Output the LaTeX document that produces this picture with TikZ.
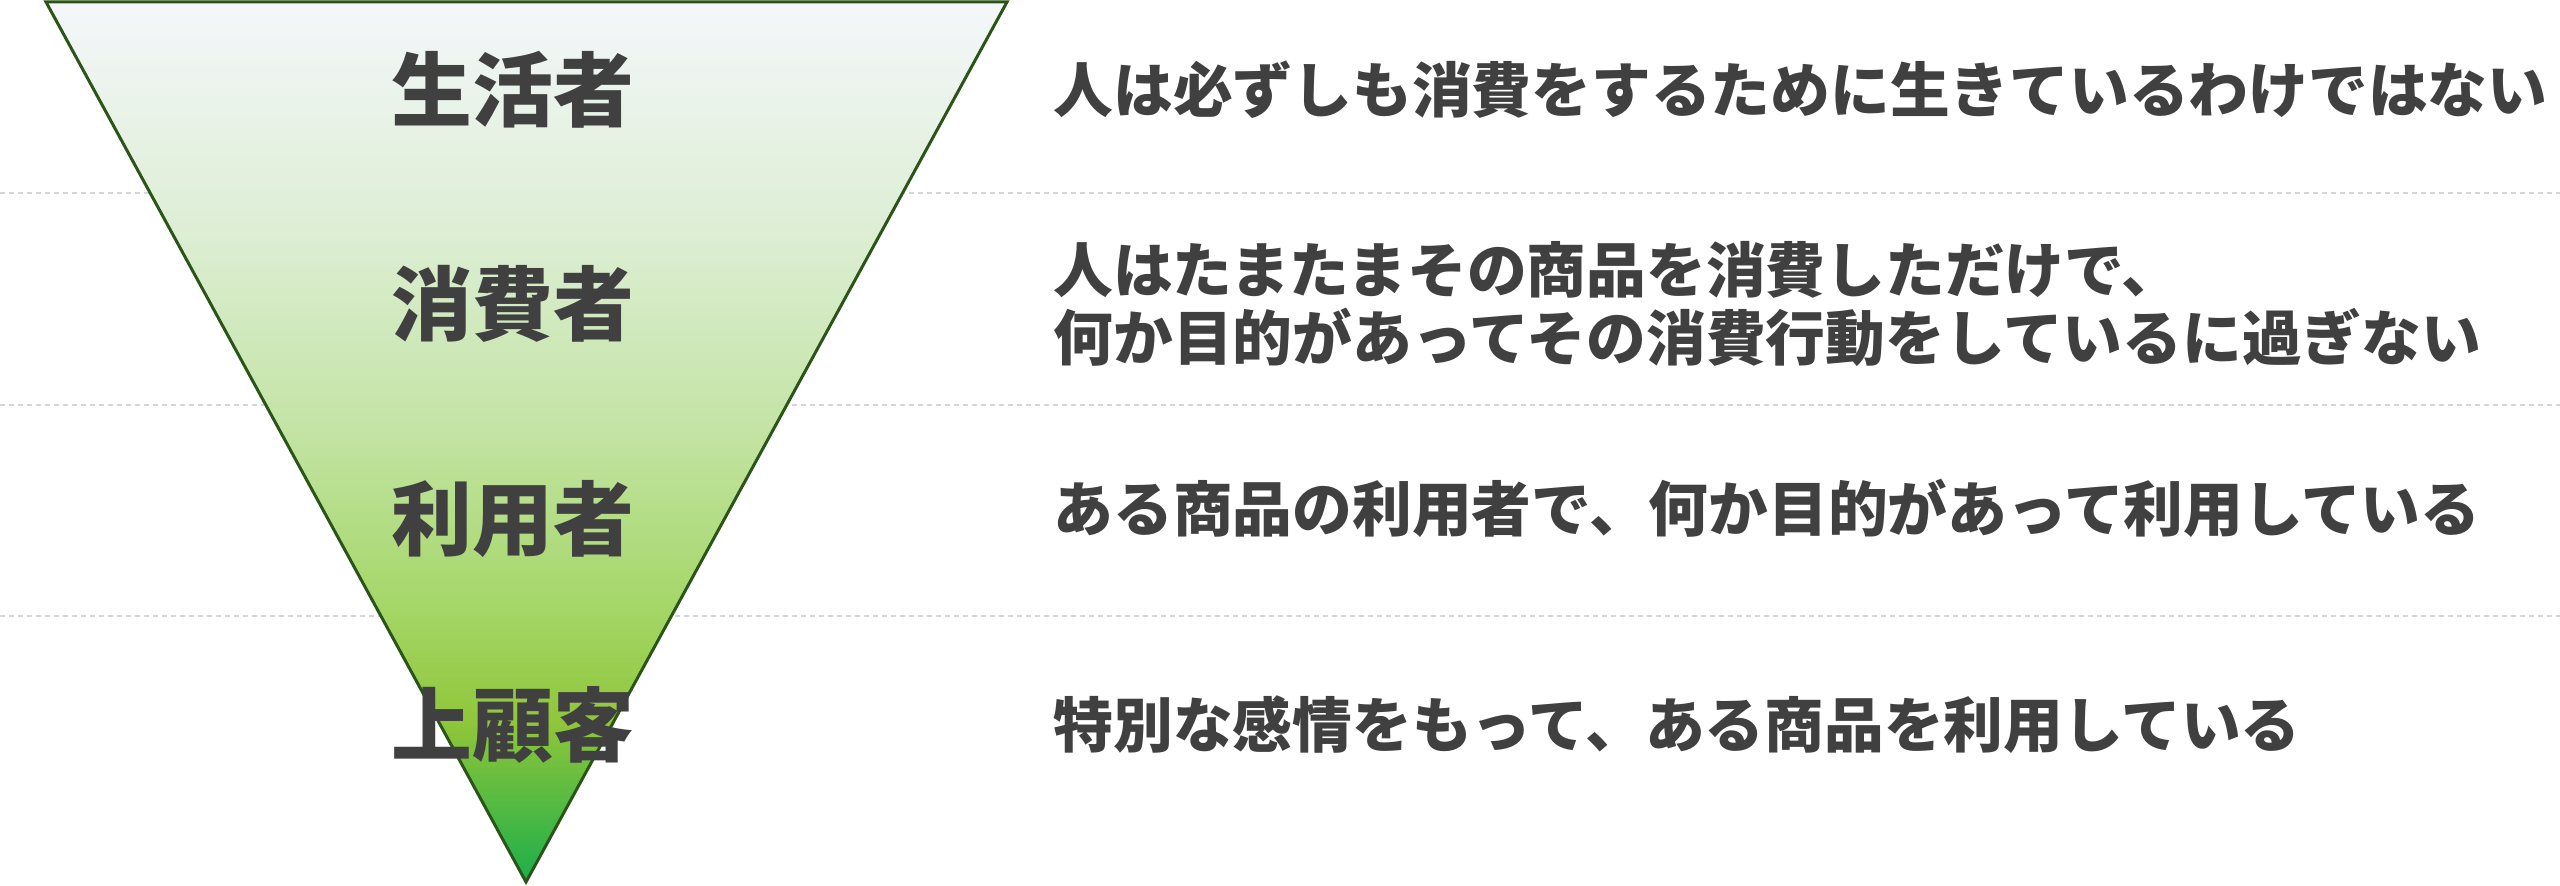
\documentclass[tikz,border=0pt]{standalone}
\usepackage{fontspec}
\newfontfamily\jpfont{Noto Sans CJK JP}
\usetikzlibrary{positioning, calc}
\definecolor{inkgray}{HTML}{404040}
\definecolor{funnelline}{HTML}{2B5518}
\definecolor{sepgray}{HTML}{D6D6D6}
\definecolor{tipgreen}{HTML}{1CAE4A}
\definecolor{limegreen}{HTML}{8FC63A}
\definecolor{midgreen}{HTML}{A6D76A}
\definecolor{palegreen}{HTML}{C4E4A6}
\definecolor{mintgreen}{HTML}{DDEED4}
\definecolor{topwhite}{HTML}{F4F7FB}
\pgfdeclareverticalshading{funnelgrad}{100bp}{%
	color(0bp)=(tipgreen); color(25bp)=(tipgreen); color(34bp)=(limegreen);%
	color(41bp)=(midgreen); color(51bp)=(palegreen); color(62bp)=(mintgreen);%
	color(75bp)=(topwhite); color(100bp)=(topwhite)}
\tikzset{%
	funnel/.style={draw=funnelline, line width=0.3mm, shading=funnelgrad},
	sep/.style={draw=sepgray, line width=0.15mm, dash pattern=on 0.5mm off 0.4mm},
	role/.style={inner sep=0mm, text=inkgray, font=\jpfont\bfseries\fontsize{23}{27}\selectfont},
	desc/.style={anchor=west, inner sep=0mm, align=left, text=inkgray,%
		font=\jpfont\bfseries\fontsize{17}{19.6}\selectfont}
}
\begin{document}
\begin{tikzpicture}[x=0.1mm, y=-0.1mm]
	\useasboundingbox (0,0) rectangle (2560,886);
	\foreach \y in {193, 405, 616}
		\draw[sep] (0,\y) -- (2560,\y);

	\coordinate (tl) at (46,2);
	\coordinate (tr) at (1007,2);
	\coordinate (tip) at (526,882);
	\draw[funnel] (tl) -- (tr) -- (tip) -- cycle;

	\node[role] (life) at (513,90) {生活者};
	\node[role] (cons) at (513,304) {消費者};
	\node[role] (user) at (513,519) {利用者};
	\node[role] (loyal) at (513,725) {上顧客};

	\coordinate (col) at (1053,0);
	\node[desc] (lifetxt) at (life-|col) {人は必ずしも消費をするために生きているわけではない};
	\node[desc] (constxt) at (cons-|col) {人はたまたまその商品を消費しただけで、\\何か目的があってその消費行動をしているに過ぎない};
	\node[desc, yshift=1.1mm] (usertxt) at (user-|col) {ある商品の利用者で、何か目的があって利用している};
	\node[desc] (loyaltxt) at (loyal-|col) {特別な感情をもって、ある商品を利用している};
\end{tikzpicture}
\end{document}
